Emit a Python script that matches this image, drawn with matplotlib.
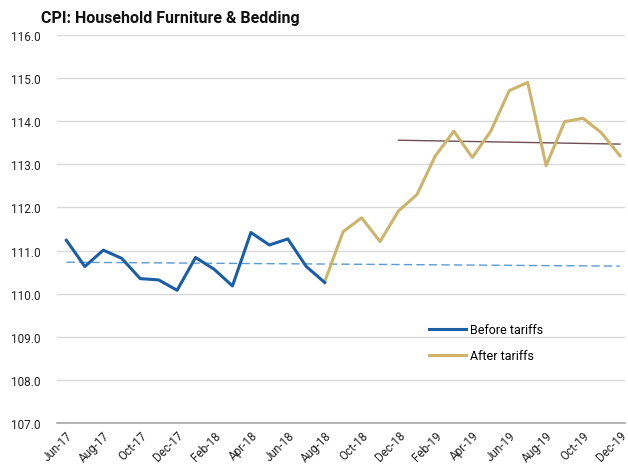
import matplotlib
matplotlib.use("Agg")
import matplotlib.pyplot as plt
import numpy as np

months = ["Jun-17","Jul-17","Aug-17","Sep-17","Oct-17","Nov-17","Dec-17","Jan-18","Feb-18","Mar-18",
          "Apr-18","May-18","Jun-18","Jul-18","Aug-18","Sep-18","Oct-18","Nov-18","Dec-18","Jan-19",
          "Feb-19","Mar-19","Apr-19","May-19","Jun-19","Jul-19","Aug-19","Sep-19","Oct-19","Nov-19","Dec-19"]
before = [111.24, 110.63, 111.01, 110.82, 110.35, 110.32, 110.08, 110.84, 110.57, 110.18,
          111.42, 111.13, 111.27, 110.63, 110.26]
after = [110.28, 111.44, 111.76, 111.21, 111.92, 112.30, 113.20, 113.77, 113.16, 113.77,
         114.71, 114.90, 112.97, 113.99, 114.07, 113.73, 113.20]
trend_before = [110.73, 110.64]   # Jun-17 -> Dec-19
trend_after = [113.56, 113.47]    # Dec-18 -> Dec-19
yticks = [107, 108, 109, 110, 111, 112, 113, 114, 115, 116]

plt.rcParams['font.family'] = ['Roboto', 'DejaVu Sans']
fig = plt.figure(figsize=(6.28, 4.77), dpi=100)
ax = fig.add_axes([0.091, 0.111, 0.905, 0.8135])

x = np.arange(len(months))
n_b = len(before)
ax.plot(x[:n_b], before, color='#1b5ea8', lw=2.2, label='Before tariffs', zorder=4)
ax.plot(x[n_b - 1:n_b - 1 + len(after)], after, color='#cdb46a', lw=2.2, label='After tariffs', zorder=3)
ax.plot([0, len(months) - 1], trend_before, color='#5b9bd5', lw=1.0, ls=(0, (6, 3)), zorder=2)
ax.plot([months.index("Dec-18"), len(months) - 1], trend_after, color='#6e4f55', lw=1.0, zorder=2)

ax.set_ylim(107, 116)
ax.set_yticks(yticks)
ax.set_yticklabels([f"{v:.1f}" for v in yticks], fontsize=8.5)
ax.set_xlim(-0.5, len(months) - 0.7)
ax.set_xticks(x[::2])
ax.set_xticklabels(months[::2], rotation=45, ha='right', rotation_mode='anchor', fontsize=8.5)
ax.tick_params(axis='both', length=0, pad=4, colors='#222222')
ax.tick_params(axis='y', pad=12)
ax.grid(axis='y', color='#d9d9d9', lw=1)
ax.set_axisbelow(True)
for s in ['top', 'right', 'left']:
    ax.spines[s].set_visible(False)
ax.spines['bottom'].set_color('#a6a6a6')
ax.spines['bottom'].set_linewidth(1.2)

ax.legend(loc='upper left', bbox_to_anchor=(0.665, 0.344), bbox_transform=fig.transFigure,
          frameon=False, fontsize=9, handlelength=3.0, handletextpad=0.3, labelspacing=1.05)

fig.text(0.065, 0.962, "CPI: Household Furniture & Bedding", fontsize=11.5, fontweight='bold',
         va='center', ha='left', color='#111111')

fig.savefig("out.png", dpi=100)
